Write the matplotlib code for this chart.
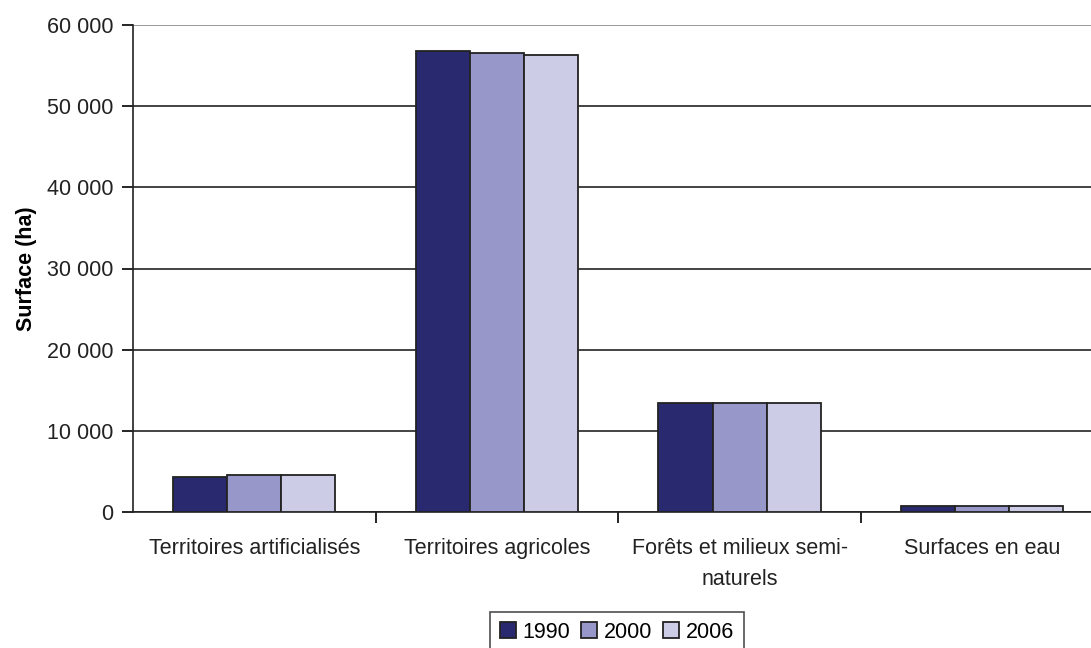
import numpy as np
import matplotlib.pyplot as plt
from matplotlib.ticker import FixedLocator, NullFormatter

plt.rcParams['font.family'] = ['Liberation Sans', 'DejaVu Sans']

categories = ['Territoires artificialisés', 'Territoires agricoles',
              'Forêts et milieux semi-\nnaturels', 'Surfaces en eau']
years = ['1990', '2000', '2006']
v1990 = [4350, 56800, 13390, 780]
v2000 = [4600, 56550, 13390, 780]
v2006 = [4600, 56340, 13390, 780]
colors = ['#28296F', '#9797C9', '#CDCCE7']
y_ticks = [0, 10000, 20000, 30000, 40000, 50000, 60000]
y_labels = ['0', '10 000', '20 000', '30 000', '40 000', '50 000', '60 000']

FS = 15.5

fig = plt.figure(figsize=(10.91, 6.48), dpi=100)
ax = fig.add_axes([133 / 1091, 1 - 512 / 648, 970.5 / 1091, 487 / 648])

x = np.arange(len(categories))
w = 0.223
for i, (vals, lab) in enumerate(zip([v1990, v2000, v2006], years)):
    ax.bar(x + (i - 1) * w, vals, width=w, color=colors[i], edgecolor='#222222',
           linewidth=1.3, label=lab, zorder=3)

ax.set_xlim(-0.5, 3.5)
ax.set_ylim(0, 60000)
ax.set_yticks(y_ticks)
ax.set_yticklabels(y_labels, fontsize=FS, color='#222222')
ax.yaxis.grid(True, color='#222222', linewidth=1.2, zorder=0)
ax.get_ygridlines()[-1].set_color('#888888')
ax.set_ylabel('Surface (ha)', fontsize=FS, fontweight='bold', labelpad=7)

# ticks at the category borders, labels at the centres
ax.xaxis.set_major_locator(FixedLocator([0.5, 1.5, 2.5]))
ax.xaxis.set_major_formatter(NullFormatter())
ax.xaxis.set_minor_locator(FixedLocator(x))
ax.set_xticklabels(categories, minor=True, fontsize=FS, color='#222222',
                   linespacing=1.6)
ax.tick_params(axis='x', which='major', length=8, width=1.2, direction='out')
ax.tick_params(axis='x', which='minor', length=0, pad=19)
ax.tick_params(axis='y', length=8, width=1.2, direction='out', pad=6)

for s in ['top', 'right']:
    ax.spines[s].set_visible(False)
ax.spines['left'].set_linewidth(1.2)
ax.spines['bottom'].set_linewidth(1.2)
ax.spines['left'].set_color('#222222')
ax.spines['bottom'].set_color('#222222')

leg = fig.legend(loc='upper center', bbox_to_anchor=(617 / 1091, 1 - 612 / 648),
                 ncol=3, fontsize=FS, frameon=True, fancybox=False,
                 handlelength=0.75, handleheight=0.75, handletextpad=0.3,
                 columnspacing=0.5, borderpad=0.45, borderaxespad=0)
leg.get_frame().set_edgecolor('#222222')
leg.get_frame().set_linewidth(1.2)

fig.savefig('out.png', dpi=100)
